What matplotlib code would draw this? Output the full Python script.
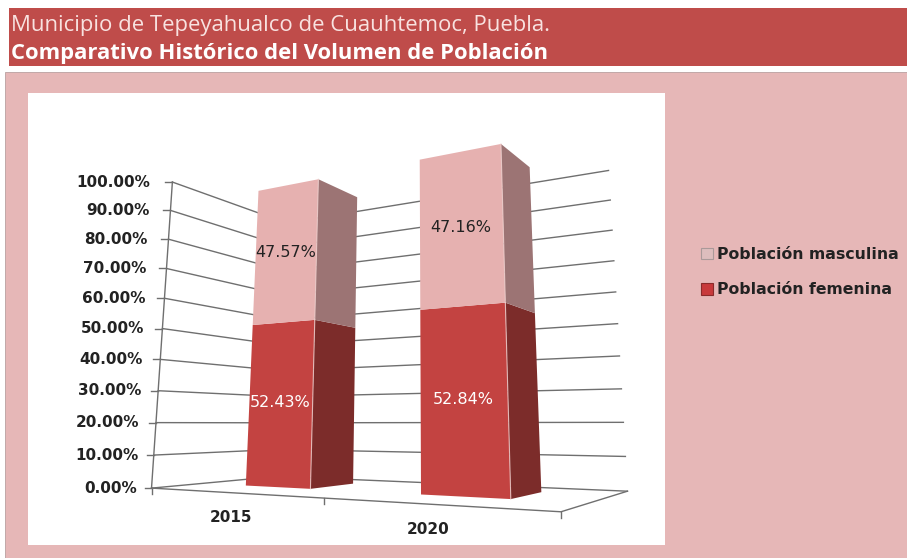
import numpy as np
import matplotlib
matplotlib.use("Agg")
import matplotlib.pyplot as plt
from matplotlib.patches import Patch, Polygon, Rectangle

# data
years = ["2015", "2020"]
femenina = [52.43, 52.84]
masculina = [47.57, 47.16]
y_ticks = [0, 10, 20, 30, 40, 50, 60, 70, 80, 90, 100]

# cube corners of the plot box on the page, used to fit the perspective
world_pts = [(0, 0, 0), (1, 0, 0), (0, 0, 1), (1, 0, 1), (0, 1, 0), (0, 1, 1), (1, 1, 1)]
page_pts = [(153, 488), (561, 512), (276, 476.5), (628, 491), (171, 182), (288, 223), (608, 170.5)]


def fit_camera(world, page):
    rows = []
    for (x, y, z), (u, v) in zip(world, page):
        rows.append([x, y, z, 1, 0, 0, 0, 0, -u * x, -u * y, -u * z, -u])
        rows.append([0, 0, 0, 0, x, y, z, 1, -v * x, -v * y, -v * z, -v])
    return np.linalg.svd(np.array(rows, dtype=float))[2][-1].reshape(3, 4)


cam = fit_camera(world_pts, page_pts)


def proj(x, val, z):
    p = cam @ np.array([x, val / 100, z, 1.0])
    return p[0] / p[2], p[1] / p[2]


bar_x = [(0.143, 0.34), (0.634, 0.84)]
bar_z = (0.36, 0.745)

fig = plt.figure(figsize=(9.07, 5.58), dpi=100, facecolor="white")
ax = fig.add_axes([0, 0, 1, 1])
ax.set_xlim(0, 907)
ax.set_ylim(558, 0)
ax.axis("off")

# page blocks
ax.add_patch(Rectangle((9, 8), 898, 58, fc="#BF4C4A", ec="none"))
ax.add_patch(Rectangle((5, 72), 902, 486, fc="#E6B7B7", ec="#B9A0A0", lw=0.6))
ax.add_patch(Rectangle((28, 93), 637, 452, fc="white", ec="none"))
ax.text(11, 25, "Municipio de Tepeyahualco de Cuauhtemoc, Puebla.", color="#F8E2E0",
        fontsize=15.9, family="Open Sans", va="center")
ax.text(11, 53, "Comparativo Histórico del Volumen de Población", color="white",
        fontsize=15.8, family="Open Sans", weight="bold", va="center")

grid_c = "#6F6F6F"
for t in y_ticks:
    a = proj(0, t, 0)
    b = proj(0, t, 1)
    c = proj(1, t, 1)
    ax.plot([a[0], b[0], c[0]], [a[1], b[1], c[1]], color=grid_c, lw=1, zorder=2)
    ax.plot([a[0] - 7, a[0]], [a[1], a[1]], color=grid_c, lw=1, zorder=2)
    ax.text(a[0] - 15 - 0.07 * t, a[1], f"{t:.2f}%", ha="right", va="center", fontsize=11,
            weight="bold", color="#222222")

# axis box lines
a, b = proj(0, 0, 0), proj(0, 100, 0)
ax.plot([a[0], b[0]], [a[1], b[1]], color=grid_c, lw=1, zorder=2)
a, b, c = proj(0, 0, 0), proj(1, 0, 0), proj(1, 0, 1)
ax.plot([a[0], b[0], c[0]], [a[1], b[1], c[1]], color=grid_c, lw=1, zorder=2)
for xt in [0, 0.5, 1]:
    a = proj(xt, 0, 0)
    ax.plot([a[0], a[0]], [a[1], a[1] + 6], color=grid_c, lw=1, zorder=2)

colors = [("#C34341", "#7C2C2A", "white"), ("#E6B1B0", "#9C7474", "#222222")]
for i, year in enumerate(years):
    x0, x1 = bar_x[i]
    z0, z1 = bar_z
    base = 0
    for vals, (front, side, txt) in zip([femenina, masculina], colors):
        top = base + vals[i]
        ax.add_patch(Polygon([proj(x0, base, z0), proj(x1, base, z0), proj(x1, top, z0), proj(x0, top, z0)],
                             fc=front, ec="none", zorder=3))
        ax.add_patch(Polygon([proj(x1, base, z0), proj(x1, base, z1), proj(x1, top, z1), proj(x1, top, z0)],
                             fc=side, ec="none", zorder=3))
        e0, e1 = proj(x1, base, z0), proj(x1, top, z0)
        ax.plot([e0[0], e1[0]], [e0[1], e1[1]], color="#F0CFCD", lw=0.8, alpha=0.8, zorder=4)
        lx, ly = proj((x0 + x1) / 2, (base + top) / 2, z0)
        ax.text(lx, ly, f"{vals[i]:.2f}%", color=txt, fontsize=11.5, ha="center", va="center", zorder=5)
        base = top
    lab = proj((x0 + x1) / 2, 0, 0)
    ax.text(lab[0] + 2, lab[1] + 25, year, ha="center", va="center", fontsize=11, weight="bold", color="#222222")

handles = [Patch(fc="#DDBDBD", ec="#AA9999", lw=0.8), Patch(fc="#C8393B", ec="#8A2A2A", lw=0.8)]
ax.legend(handles, ["Población masculina", "Población femenina"], loc="upper left",
          bbox_to_anchor=(693, 239), bbox_transform=ax.transData, frameon=False,
          prop={"weight": "bold", "size": 11.3}, handlelength=0.75, handleheight=0.75, handletextpad=0.3,
          labelspacing=1.3, borderpad=0, labelcolor="#222222")

fig.savefig("out.png", dpi=100)
